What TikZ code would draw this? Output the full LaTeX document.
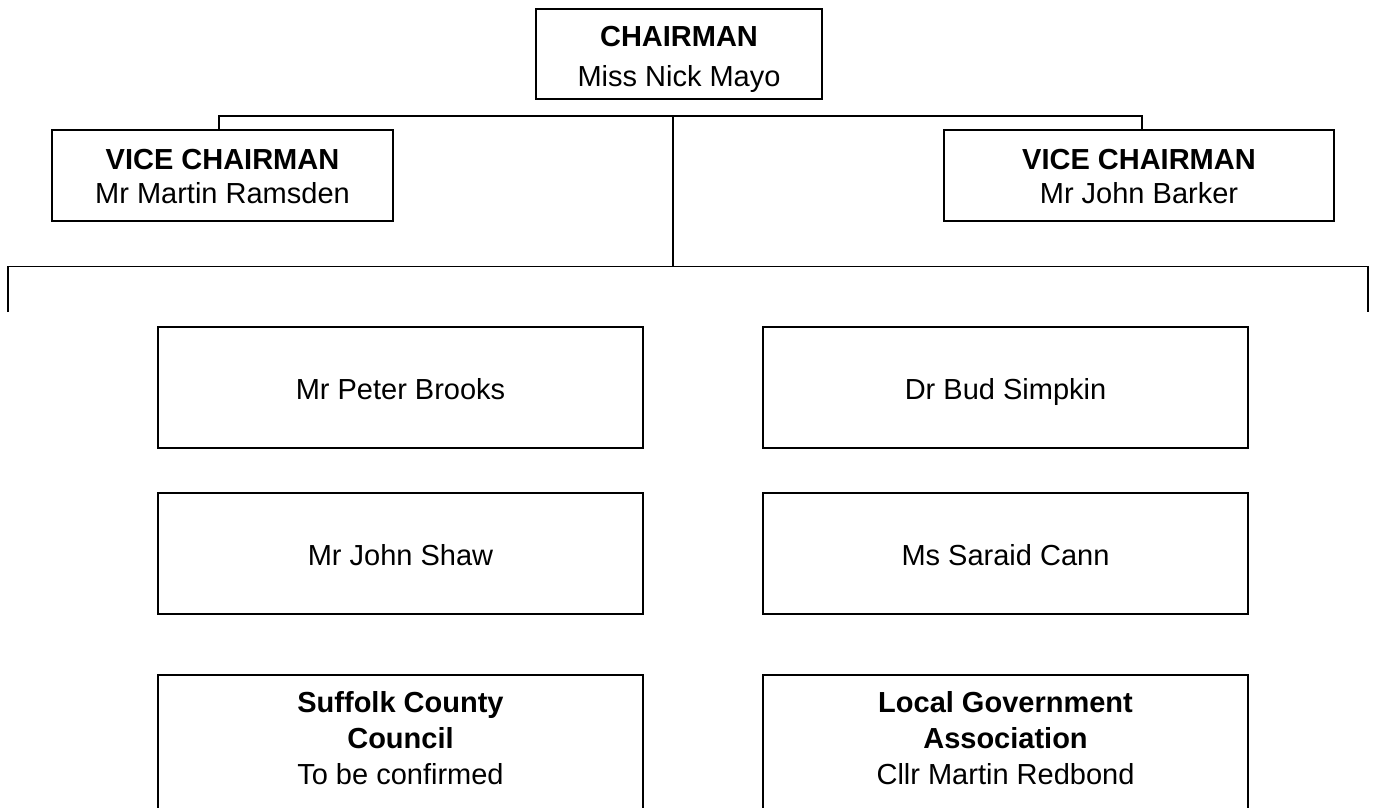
\documentclass[tikz,border=0pt]{standalone}
\usepackage{fontspec}
\setmainfont{Liberation Sans}
\begin{document}
\begin{tikzpicture}[x=1pt,y=-1pt,
  box/.style={draw, line width=2pt, inner sep=0pt},
  memb/.style={box, minimum width=485pt, minimum height=121pt, text height=24pt, text depth=0pt, font=\fontsize{29}{34}\selectfont},
  txt/.style={inner sep=0pt, align=center, anchor=north},
  conn/.style={line width=1.5pt}]
\clip (0,0) rectangle (1376,808);
\fill[white] (0,0) rectangle (1376,808);
% top level
\node[box, minimum width=286pt, minimum height=90pt] (ch) at (679,54) {};
\node[txt, font=\fontsize{29}{40}\selectfont] (cht) at (679,26) {\textbf{CHAIRMAN}\\Miss Nick Mayo};
\node[box, minimum width=341pt, minimum height=91pt] (vl) at (222.5,175.5) {};
\node[txt, font=\fontsize{29}{34}\selectfont] (vlt) at (222.5,149.5) {\textbf{VICE CHAIRMAN}\\Mr Martin Ramsden};
\node[box, minimum width=390pt, minimum height=91pt] (vr) at (1139,175.5) {};
\node[txt, font=\fontsize{29}{34}\selectfont] (vrt) at (1139,149.5) {\textbf{VICE CHAIRMAN}\\Mr John Barker};
% members
\node[memb] (pb) at (400.5,387.5) {Mr Peter Brooks};
\node[memb] (bs) at (1005.5,387.5) {Dr Bud Simpkin};
\node[memb] (js) at (400.5,553.5) {Mr John Shaw};
\node[memb] (sc) at (1005.5,553.5) {Ms Saraid Cann};
\node[box, minimum width=485pt, minimum height=175pt] (scc) at (400.5,762.5) {};
\node[box, minimum width=485pt, minimum height=175pt] (lga) at (1005.5,762.5) {};
\node[txt, font=\fontsize{29}{36}\selectfont] (scct) at (400.5,691) {\textbf{Suffolk County}\\\textbf{Council}\\To be confirmed};
\node[txt, font=\fontsize{29}{36}\selectfont] (lgat) at (1005.5,691) {\textbf{Local Government}\\\textbf{Association}\\Cllr Martin Redbond};
% connectors
\coordinate (j1) at (673,116);
\coordinate (j2) at (673,266.5);
\coordinate (la) at (8,312);
\coordinate (lb) at (1368,312);
\draw[conn] ([xshift=-3.5pt]vl.north) |- (j1) -| ([xshift=3pt]vr.north);
\draw[conn] (j1) -- (j2);
\draw[conn] (la) |- (j2) -| (lb);
\end{tikzpicture}
\end{document}
